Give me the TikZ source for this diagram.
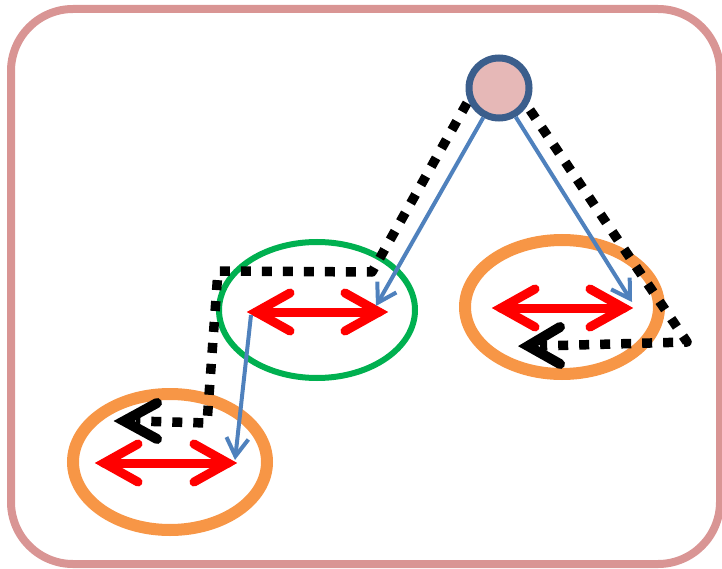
\documentclass[tikz,border=0pt]{standalone}
\usetikzlibrary{arrows.meta}
\definecolor{framec}{HTML}{D99594}
\definecolor{rootline}{HTML}{3B5E8C}
\definecolor{rootfill}{HTML}{E6B8B7}
\definecolor{greenc}{HTML}{00B050}
\definecolor{orangec}{HTML}{F79646}
\definecolor{bluec}{HTML}{4F81BD}
\definecolor{redc}{HTML}{FF0000}
\tikzset{
  framebox/.style={draw=framec,line width=8pt,rounded corners=62pt},
  greenell/.style={draw=greenc,line width=6pt},
  orangeell/.style={draw=orangec,line width=12pt},
  redarr/.style={draw=redc,line width=9pt,line cap=round,line join=miter},
  blackhead/.style={draw=black,line width=10pt,line cap=round,line join=miter},
  dotline/.style={draw=black,line width=9.5pt,dash pattern=on 10pt off 11pt,line join=round},
  bluearr/.style={draw=bluec,line width=4pt,-{Straight Barb[length=18pt,width=22pt]}},
}
\begin{document}
\begin{tikzpicture}[x=1pt,y=-1pt]
\useasboundingbox (0,0) rectangle (722,569);
\draw[framebox] (11,9) rectangle (720,564);

% ellipses
\draw[greenell] (317,310) ellipse [x radius=98, y radius=68];
\draw[orangeell] (562,307) ellipse [x radius=97, y radius=67];
\draw[orangeell] (170,462) ellipse [x radius=97, y radius=68];

% coordinates
\coordinate (gL) at (256,312);
\coordinate (gR) at (379,312);
\coordinate (rL) at (501,308);
\coordinate (rR) at (624,308);
\coordinate (bL) at (104,463);
\coordinate (bR) at (228,463);
\coordinate (kb) at (124,421);
\coordinate (kr) at (528,346);
\coordinate (d1) at (467,103);
\coordinate (c1) at (372,272);
\coordinate (c2) at (218,271);
\coordinate (c3) at (207,423);
\coordinate (d2) at (530,110);
\coordinate (c4) at (687,342);

% dotted paths
\draw[dotline] (d1) -- (c1) -- (c2) -- (c3) -- ([xshift=12pt]kb);
\draw[dotline] (d2) -- (c4) -- ([xshift=12pt]kr);

% red double arrows
\draw[redarr] (gL) -- (gR);
\draw[redarr] ([shift={(34,-19)}]gL) -- (gL) -- ([shift={(34,19)}]gL);
\draw[redarr] ([shift={(-34,-19)}]gR) -- (gR) -- ([shift={(-34,19)}]gR);
\draw[redarr] (rL) -- (rR);
\draw[redarr] ([shift={(34,-19)}]rL) -- (rL) -- ([shift={(34,19)}]rL);
\draw[redarr] ([shift={(-34,-19)}]rR) -- (rR) -- ([shift={(-34,19)}]rR);
\draw[redarr] (bL) -- (bR);
\draw[redarr] ([shift={(34,-19)}]bL) -- (bL) -- ([shift={(34,19)}]bL);
\draw[redarr] ([shift={(-34,-19)}]bR) -- (bR) -- ([shift={(-34,19)}]bR);

% black heads
\draw[blackhead] (157,403) -- (kb) -- (157,439);
\draw[blackhead] (560,327) -- (kr) -- (560,364);

% root circle
\node[circle,draw=rootline,fill=rootfill,line width=7pt,minimum size=60pt,inner sep=0pt] (root) at (499,88) {};

% blue arrows
\coordinate (t1) at (376,306);
\coordinate (t2) at (632,302);
\coordinate (s3) at (251,315);
\coordinate (t3) at (235,460);
\draw[bluearr] (root.-118) -- (t1);
\draw[bluearr] (root.-60) -- (t2);
\draw[bluearr] (s3) -- (t3);
\end{tikzpicture}
\end{document}
